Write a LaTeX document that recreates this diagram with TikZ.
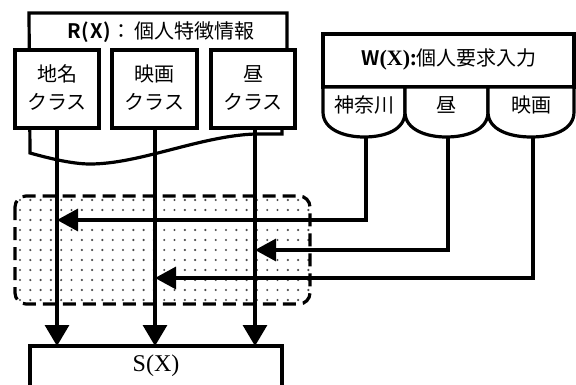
\documentclass[tikz,border=0pt]{standalone}
\usepackage{fontspec}
\setmainfont{Liberation Serif}
\newfontfamily\jp{Noto Sans CJK JP}
\newfontfamily\jpb{Noto Sans CJK JP Bold}
\usetikzlibrary{arrows.meta}
\begin{document}
\begin{tikzpicture}[x=1pt,y=-1pt,
  every node/.style={inner sep=0pt,outer sep=0pt},
  ln/.style={line width=3.2pt},
  boxst/.style={draw,line width=3.2pt,fill=white},
  jt/.style={font=\jp\fontsize{20}{24}\selectfont},
  arr/.style={line width=3.2pt,-{Triangle[length=21pt,width=24pt]}},
  harr/.style={line width=3.2pt,-{Triangle[length=21pt,width=22pt]}}]
\useasboundingbox (0,0) rectangle (576,385);
% dotted region
\begin{scope}
  \clip[rounded corners=11pt] (15,196) rectangle (310,304);
  \foreach \i in {0,...,30}{
    \foreach \j in {0,...,11}{
      \fill[black!70] (20+10.3*\i,200+10*\j) circle (1.2pt);
    }
  }
\end{scope}
\draw[line width=3.2pt,dash pattern=on 13pt off 7pt,rounded corners=11pt] (15,196) rectangle (310,304);
% R(X) outer shape
\draw[ln,fill=white] (30,153) .. controls (55,160) and (75,164) .. (90,164)
  .. controls (140,164) and (200,136) .. (255,134) -- (282,134) -- (282,50)
  -- (287,50) -- (287,13) -- (29,13) -- cycle;
\node[jt] (rt) at (161,32) {{\jpb R\kern1pt(\kern1pt X\kern1pt)}：\,個人特徴情報};
\node[boxst,minimum width=84pt,minimum height=78pt] (r1) at (57,89) {};
\node[boxst,minimum width=85pt,minimum height=78pt] (r2) at (154.5,89) {};
\node[boxst,minimum width=84pt,minimum height=78pt] (r3) at (253,89) {};
\node[jt,align=center] at (57,88) {地名\\[4pt]クラス};
\node[jt,align=center] at (154.5,88) {映画\\[4pt]クラス};
\node[jt,align=center] at (253,88) {昼\\[4pt]クラス};
% W(X)
\draw[ln,fill=white] (323,34) rectangle (574,87);
\node[jt] (wt) at (449,59) {{\jpb W}{\rmfamily\bfseries\fontsize{22}{24}\selectfont (X)}{\jpb :}個人要求入力};
\draw[ln,fill=white] (323,87) -- (323,112) .. controls (323,130) and (345,137) .. (364,137)
  .. controls (385,137) and (405,130) .. (405,112) -- (405,87) -- cycle;
\draw[ln,fill=white] (405,87) -- (405,112) .. controls (405,130) and (427,137) .. (446,137)
  .. controls (467,137) and (488,130) .. (488,112) -- (488,87) -- cycle;
\draw[ln,fill=white] (488,87) -- (488,112) .. controls (488,130) and (510,137) .. (531,137)
  .. controls (553,137) and (574,130) .. (574,112) -- (574,87) -- cycle;
\node[jt] (w1) at (364,105) {神奈川};
\node[jt] (w2) at (446,105) {昼};
\node[jt] (w3) at (531,105) {映画};
\coordinate (c1) at (366,137);
\coordinate (c2) at (448,137);
\coordinate (c3) at (533,137);
% S(X)
\node[boxst,minimum width=252pt,minimum height=60pt] (s) at (156,376) {};
\node[font=\fontsize{24}{26}\selectfont] at (156,366) {S(X)};
% vertical arrows
\draw[arr] (r1.south -| 57,0) -- (57,346);
\draw[arr] (r2.south -| 155,0) -- (155,346);
\draw[arr] (r3.south -| 255,0) -- (255,346);
% horizontal arrows
\draw[harr] (c1) |- (57,220);
\draw[harr] (c2) |- (255,250);
\draw[harr] (c3) |- (155,278);
\end{tikzpicture}
\end{document}
